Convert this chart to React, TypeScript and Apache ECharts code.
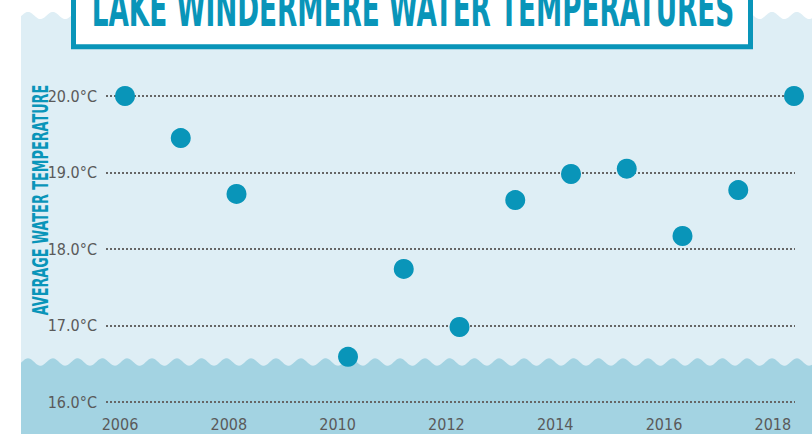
import React, { useEffect, useRef } from "react";
import * as echarts from "echarts";

const years = [2006, 2007, 2008, 2010, 2011, 2012, 2013, 2014, 2015, 2016, 2017, 2018];
const temps = [20.0, 19.45, 18.72, 16.59, 17.74, 16.98, 18.64, 18.98, 19.05, 18.17, 18.77, 20.0];
const yearTicks = [2006, 2008, 2010, 2012, 2014, 2016, 2018];
const tempTicks = [16, 17, 18, 19, 20];
const titleText = "LAKE WINDERMERE WATER TEMPERATURES";
const yAxisTitle = "AVERAGE WATER TEMPERATURE";

const FONT = "'Liberation Sans Narrow', 'DejaVu Sans Condensed', 'Roboto Condensed', sans-serif";
const TEAL = "#0995b9";
const GRAY = "#5a5a5a";

function wavePoints(x0: number, x1: number, yMid: number, amp: number, peak: number, period: number, bottom: number) {
  const pts: number[][] = [];
  for (let x = x0; x <= x1; x += 1) {
    pts.push([x, yMid - amp * Math.cos((2 * Math.PI * (x - peak)) / period)]);
  }
  pts.push([x1, bottom]);
  pts.push([x0, bottom]);
  return pts;
}

export default function App() {
  const ref = useRef<HTMLDivElement>(null);
  useEffect(() => {
    document.body.style.margin = "0";
    const chart = echarts.init(ref.current!, null, { renderer: "svg" });
    const data = years.map((y, i) => [y, temps[i]]);
    chart.setOption({
      animation: false,
      grid: { left: 106, right: 17, top: 96, bottom: 32, containLabel: false },
      xAxis: [
        {
          type: "value",
          min: 2005.659,
          max: 2018.018,
          show: false,
        },
        {
          type: "value",
          position: "bottom",
          min: 2005.743,
          max: 2018.408,
          axisLine: { show: false },
          axisTick: { show: false },
          splitLine: { show: false },
          axisLabel: {
            customValues: yearTicks,
            formatter: (v: number) => String(v),
            margin: 14,
            color: GRAY,
            fontFamily: FONT,
            fontSize: 16,
          },
        },
      ],
      yAxis: {
        type: "value",
        min: tempTicks[0],
        max: tempTicks[tempTicks.length - 1],
        interval: 1,
        axisLine: { show: false },
        axisTick: { show: false },
        axisLabel: {
          formatter: (v: number) => v.toFixed(1) + "°C",
          margin: 9,
          color: GRAY,
          fontFamily: FONT,
          fontSize: 16,
        },
        splitLine: {
          show: true,
          lineStyle: { color: "#666666", width: 2, type: [2, 2] },
        },
      },
      series: [
        {
          type: "scatter",
          xAxisIndex: 0,
          data,
          symbolSize: 20,
          clip: false,
          itemStyle: { color: TEAL, opacity: 1 },
          z: 5,
        },
      ],
      graphic: [
        {
          type: "polygon",
          z: -20,
          silent: true,
          shape: { points: wavePoints(21, 812, 15.5, 3.6, 28, 24.8, 434) },
          style: { fill: "#deeef5" },
        },
        {
          type: "polygon",
          z: -10,
          silent: true,
          shape: { points: wavePoints(21, 812, 362, 3.7, 28, 24.8, 434) },
          style: { fill: "#a3d3e2" },
        },
        {
          type: "rect",
          z: 50,
          silent: true,
          shape: { x: 73.5, y: -20, width: 677, height: 66.8 },
          style: { fill: "#ffffff", stroke: TEAL, lineWidth: 5 },
        },
        {
          type: "text",
          z: 51,
          silent: true,
          x: 413,
          y: 9,
          scaleX: 0.585,
          style: {
            text: titleText,
            fill: TEAL,
            font: `bold 50px ${FONT}`,
            textAlign: "center",
            textVerticalAlign: "middle",
            verticalAlign: "middle",
          },
        },
        {
          type: "text",
          z: 51,
          silent: true,
          x: 40,
          y: 200,
          rotation: Math.PI / 2,
          scaleX: 0.68,
          style: {
            text: yAxisTitle,
            fill: TEAL,
            font: `bold 21px ${FONT}`,
            textAlign: "center",
            textVerticalAlign: "middle",
            verticalAlign: "middle",
          },
        },
      ],
    });
    return () => chart.dispose();
  }, []);
  return (
    <div
      ref={ref}
      style={{ position: "fixed", left: 0, top: 0, width: 812, height: 434, background: "#ffffff" }}
    />
  );
}
